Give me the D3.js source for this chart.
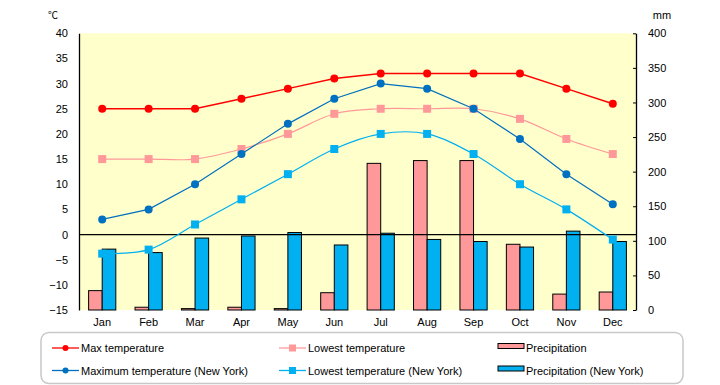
<!DOCTYPE html>
<html>
<head>
<meta charset="utf-8">
<script src="https://cdn.jsdelivr.net/npm/d3@7"></script>
<style>
  body { margin: 0; background: #fff; }
  text { font-family: "Liberation Sans", Arial, sans-serif; font-size: 11px; fill: #000; }
</style>
</head>
<body>
<div id="chart"></div>
<script>
// data
var months = ["Jan", "Feb", "Mar", "Apr", "May", "Jun", "Jul", "Aug", "Sep", "Oct", "Nov", "Dec"];
var maxTemp = [25, 25, 25, 27, 29, 31, 32, 32, 32, 32, 29, 26];
var lowTemp = [15, 15, 15, 17, 20, 24, 25, 25, 25, 23, 19, 16];
var maxTempNY = [3, 5, 10, 16, 22, 27, 30, 29, 25, 19, 12, 6];
var lowTempNY = [-3.8, -3, 2, 7, 12, 17, 20, 20, 16, 10, 5, -1];
var precip = [28, 4, 2, 4, 2, 25, 212, 216, 216, 95, 23, 26];
var precipNY = [88, 83, 104, 107, 112, 94, 111, 102, 99, 91, 114, 99];
var tempTicks = [-15, -10, -5, 0, 5, 10, 15, 20, 25, 30, 35, 40];
var mmTicks = [0, 50, 100, 150, 200, 250, 300, 350, 400];

var svgWidth = 720, svgHeight = 385;
var plotLeft = 79, plotRight = 636, plotTop = 33.3, plotBottom = 310;

var svg = d3.select("#chart").append("svg")
    .attr("width", svgWidth)
    .attr("height", svgHeight);

var x = d3.scaleBand().domain(months).range([plotLeft, plotRight]);
var yT = d3.scaleLinear().domain([-15, 40]).range([plotBottom, plotTop]);
var yP = d3.scaleLinear().domain([0, 400]).range([plotBottom, plotTop]);
var cx = m => x(m) + x.bandwidth() / 2;

// plot background
svg.append("rect")
    .attr("x", plotLeft).attr("y", plotTop)
    .attr("width", plotRight - plotLeft).attr("height", plotBottom - plotTop)
    .attr("fill", "#FFFFCC");

// bars
var barW = 13.6;
svg.append("g").selectAll("rect")
    .data(precip)
    .enter().append("rect")
    .attr("x", (d, i) => cx(months[i]) - barW)
    .attr("y", d => yP(d))
    .attr("width", barW)
    .attr("height", d => plotBottom - yP(d))
    .attr("fill", "#FF9999")
    .attr("stroke", "#000")
    .attr("stroke-width", 1);

svg.append("g").selectAll("rect")
    .data(precipNY)
    .enter().append("rect")
    .attr("x", (d, i) => cx(months[i]))
    .attr("y", d => yP(d))
    .attr("width", barW)
    .attr("height", d => plotBottom - yP(d))
    .attr("fill", "#00B0F0")
    .attr("stroke", "#000")
    .attr("stroke-width", 1);

// zero line
svg.append("line")
    .attr("x1", plotLeft).attr("x2", plotRight)
    .attr("y1", yT(0)).attr("y2", yT(0))
    .attr("stroke", "#000").attr("stroke-width", 1.3);

// axes
var leftAxis = svg.append("g")
    .attr("transform", `translate(${plotLeft},0)`)
    .call(d3.axisLeft(yT).tickValues(tempTicks).tickSize(0).tickPadding(11));
var rightAxis = svg.append("g")
    .attr("transform", `translate(${plotRight},0)`)
    .call(d3.axisRight(yP).tickValues(mmTicks).tickSizeInner(-3).tickSizeOuter(0).tickPadding(12));
[leftAxis, rightAxis].forEach(function(a) {
  a.select(".domain").attr("stroke", "#000").attr("stroke-width", 1.3);
  a.selectAll("text").style("font-family", "'Liberation Sans', Arial, sans-serif").style("font-size", "11px");
});
rightAxis.selectAll("text").attr("x", 12).attr("text-anchor", "start");

// month labels
svg.append("g").selectAll("text")
    .data(months)
    .enter().append("text")
    .attr("x", d => cx(d))
    .attr("y", 326)
    .attr("text-anchor", "middle")
    .text(d => d);

// units
svg.append("text").attr("x", 53).attr("y", 19).attr("text-anchor", "middle")
    .style("font-family", "'Noto Sans CJK JP', sans-serif").style("font-size", "10px").text("℃");
svg.append("text").attr("x", 662).attr("y", 19).attr("text-anchor", "middle").text("mm");

// lines
var series = [
  { vals: lowTemp, color: "#FF9999", shape: "square", curve: d3.curveCardinal },
  { vals: lowTempNY, color: "#00B0F0", shape: "square", curve: d3.curveCardinal },
  { vals: maxTempNY, color: "#0070C0", shape: "circle", curve: d3.curveLinear },
  { vals: maxTemp, color: "#FF0000", shape: "circle", curve: d3.curveLinear }
];

series.forEach(function(s) {
  var line = d3.line()
      .x((d, i) => cx(months[i]))
      .y(d => yT(d))
      .curve(s.curve);
  svg.append("path")
      .datum(s.vals)
      .attr("d", line)
      .attr("fill", "none")
      .attr("stroke", s.color)
      .attr("stroke-width", s.color == "#FF0000" ? 1.5 : 1.2);
  var g = svg.append("g");
  if (s.shape == "circle") {
    g.selectAll("circle").data(s.vals).enter().append("circle")
        .attr("cx", (d, i) => cx(months[i]))
        .attr("cy", d => yT(d))
        .attr("r", 4)
        .attr("fill", s.color);
  } else {
    g.selectAll("rect").data(s.vals).enter().append("rect")
        .attr("x", (d, i) => cx(months[i]) - 4)
        .attr("y", d => yT(d) - 4)
        .attr("width", 8).attr("height", 8)
        .attr("fill", s.color);
  }
});

// legend
svg.append("rect")
    .attr("x", 41).attr("y", 332.5)
    .attr("width", 642).attr("height", 51)
    .attr("rx", 8).attr("ry", 8)
    .attr("fill", "#fff")
    .attr("stroke", "#C8C8C8")
    .attr("stroke-width", 1.5);

var legendItems = [
  { label: "Max temperature", color: "#FF0000", shape: "circle", x: 52, y: 348 },
  { label: "Maximum temperature (New York)", color: "#0070C0", shape: "circle", x: 52, y: 370.5 },
  { label: "Lowest temperature", color: "#FF9999", shape: "square", x: 279, y: 348 },
  { label: "Lowest temperature (New York)", color: "#00B0F0", shape: "square", x: 279, y: 370.5 },
  { label: "Precipitation", color: "#FF9999", shape: "bar", x: 498, y: 348 },
  { label: "Precipitation (New York)", color: "#00B0F0", shape: "bar", x: 498, y: 370.5 }
];

legendItems.forEach(function(d) {
  var g = svg.append("g");
  if (d.shape == "bar") {
    g.append("rect").attr("x", d.x).attr("y", d.y - 4.5)
        .attr("width", 26).attr("height", 5)
        .attr("fill", d.color).attr("stroke", "#000").attr("stroke-width", 1);
    g.append("text").attr("x", d.x + 28).attr("y", d.y + 4).text(d.label);
  } else {
    g.append("line").attr("x1", d.x).attr("x2", d.x + 27)
        .attr("y1", d.y).attr("y2", d.y)
        .attr("stroke", d.color).attr("stroke-width", 1.3);
    if (d.shape == "circle") {
      g.append("circle").attr("cx", d.x + 13.5).attr("cy", d.y).attr("r", 3).attr("fill", d.color);
    } else {
      g.append("rect").attr("x", d.x + 10).attr("y", d.y - 3.5)
          .attr("width", 7).attr("height", 7).attr("fill", d.color);
    }
    g.append("text").attr("x", d.x + 29).attr("y", d.y + 4).text(d.label);
  }
});
</script>
</body>
</html>
